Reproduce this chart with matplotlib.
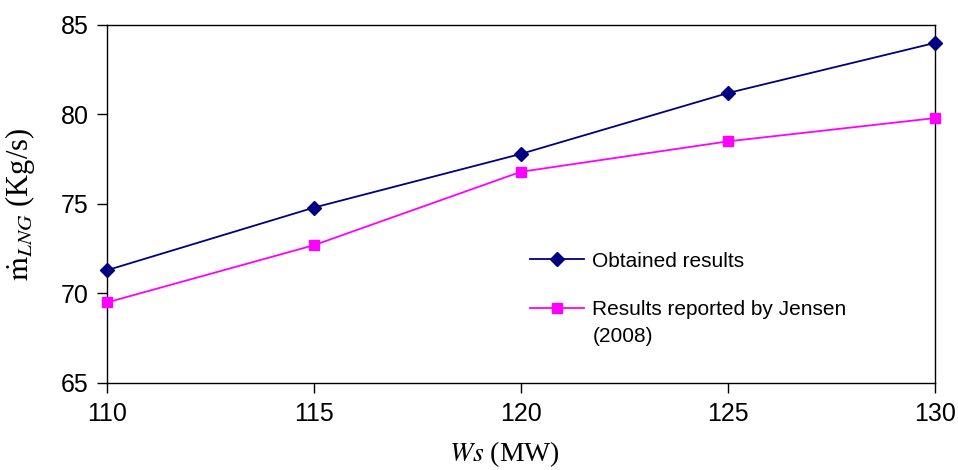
import matplotlib
matplotlib.use("Agg")
import matplotlib.pyplot as plt

ws = [110, 115, 120, 125, 130]
obtained = [71.3, 74.8, 77.8, 81.2, 84.0]
jensen = [69.5, 72.7, 76.8, 78.5, 79.8]
yticks = [65, 70, 75, 80, 85]

plt.rcParams['font.family'] = ['Liberation Sans', 'DejaVu Sans']
plt.rcParams['mathtext.fontset'] = 'stix'

W, H = 958, 470
fig = plt.figure(figsize=(W/100, H/100), dpi=100)
ax = fig.add_axes([107/W, 1 - 383/H, (935-107)/W, (383-25)/H])

ax.plot(ws, obtained, color='#000080', marker='D', markersize=7, lw=1.3,
        label='Obtained results', clip_on=False, zorder=3)
ax.plot(ws, jensen, color='#FF00FF', marker='s', markersize=7, lw=1.3,
        label='Results reported by Jensen', clip_on=False, zorder=3)

ax.set_xlim(110, 130)
ax.set_ylim(65, 85)
ax.set_xticks(ws)
ax.set_yticks(yticks)
ax.tick_params(axis='both', direction='out', length=7, width=1, labelsize=18, colors='black')
ax.tick_params(axis='x', pad=7)
ax.tick_params(axis='y', pad=6)
for s in ax.spines.values():
    s.set_linewidth(1.0)
    s.set_color('black')

ax.set_ylabel(r'$\dot{\mathrm{m}}_{LNG}$ (Kg/s)', fontsize=22, family='Liberation Serif')
ax.yaxis.set_label_coords(-70/828, 0.5)
ax.set_xlabel(r'$Ws$ (MW)', fontsize=20, family='Liberation Serif')
ax.xaxis.set_label_coords((504-107)/828, -(439-383)/358)

leg = ax.legend(loc='upper left', bbox_to_anchor=((511-107)/828, (383-233)/358), frameon=False,
                fontsize=15, handlelength=2.6, labelspacing=1.4, handletextpad=0.4)

fig.canvas.draw()
bb = leg.get_texts()[1].get_window_extent()
ax.text(bb.x0 / W, (bb.y0 - 27) / H, '(2008)', transform=fig.transFigure,
        fontsize=15, ha='left', va='bottom')

fig.savefig('out.png', dpi=100)
